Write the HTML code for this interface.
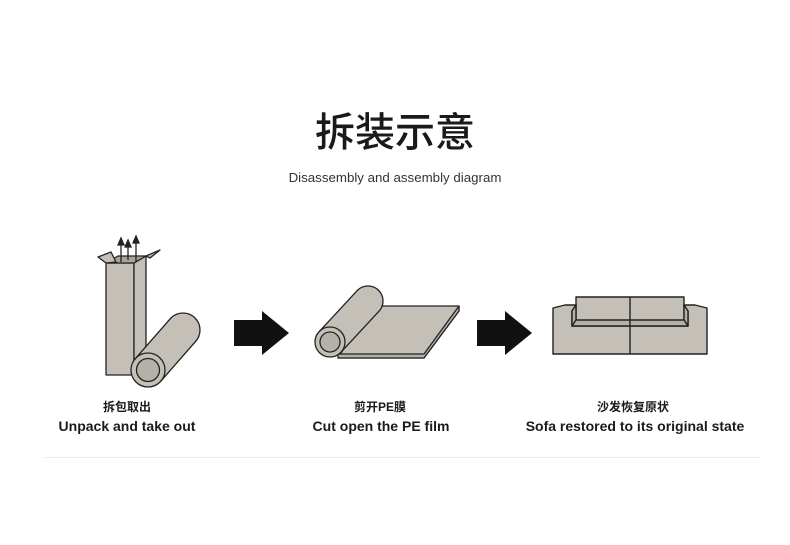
<!DOCTYPE html>
<html><head><meta charset="utf-8"><style>
body{margin:0;background:#fff}
svg{display:block}
</style></head><body>
<svg width="790" height="545" viewBox="0 0 790 545" xmlns="http://www.w3.org/2000/svg">
<rect width="790" height="545" fill="#fff"/>
<text x="395" y="146" text-anchor="middle" font-family="Liberation Sans, Noto Sans CJK SC, sans-serif" font-size="40" font-weight="500" fill="#1a1a1a">拆装示意</text>
<text x="395" y="182" text-anchor="middle" font-family="Liberation Sans, sans-serif" font-size="13.3" fill="#333">Disassembly and assembly diagram</text>
<g stroke="#222" stroke-width="1.3" fill="#c4c0b8" stroke-linejoin="round">
<rect x="106" y="263" width="28" height="112"/>
<polygon points="134,263 146,256 146,368 134,375"/>
<polygon points="106,263 134,263 146,256 118,256" fill="#a9a59d"/>
<polygon points="98,257 111,252 116,262 106,263" />
<polygon points="146,256 160,250 150,258"/>
</g>
<g stroke="#222" stroke-width="1.3" fill="#222">
<line x1="121" y1="262" x2="121" y2="243"/><polygon points="118,245 121,238 124,245"/>
<line x1="128" y1="260" x2="128" y2="245"/><polygon points="125,247 128,240 131,247"/>
<line x1="136" y1="262" x2="136" y2="240"/><polygon points="133,243 136,236 139,243"/>
</g>
<!-- roll 1 -->
<g stroke="#222" stroke-width="1.3" fill="#c4c0b8">
<circle cx="183" cy="330" r="17"/>
<polygon points="160.8,381.2 135.2,358.8 170.2,318.8 195.8,341.2" stroke="none"/>
<line x1="160.8" y1="381.2" x2="195.8" y2="341.2"/>
<line x1="135.2" y1="358.8" x2="170.2" y2="318.8"/>
<circle cx="148" cy="370" r="17"/>
<circle cx="148" cy="370" r="11.5" fill="#b5b1a9"/>
</g>
<!-- arrows -->
<polygon points="234,320 262,320 262,311 289,333 262,355 262,346 234,346" fill="#111"/>
<polygon points="477,320 505,320 505,311 532,333 505,355 505,346 477,346" fill="#111"/>
<!-- film -->
<g stroke="#222" stroke-width="1.3" fill="#c4c0b8" stroke-linejoin="round">
<polygon points="370,306 459,306 459,311 424,358 338,358"/>
<polygon points="338,354 424,354 459,306 459,311 424,358 338,358" fill="#b5b1a9"/>
<circle cx="368" cy="301" r="15"/>
<polygon points="341,352.2 319,331.8 357,290.8 379,311.2" stroke="none"/>
<line x1="341" y1="352.2" x2="379" y2="311.2"/>
<line x1="319" y1="331.8" x2="357" y2="290.8"/>
<circle cx="330" cy="342" r="15"/>
<circle cx="330" cy="342" r="10" fill="#b5b1a9"/>
</g>
<!-- sofa -->
<g stroke="#222" stroke-width="1.4" fill="#c4c0b8" stroke-linejoin="round">
<rect x="576" y="297" width="108" height="29"/>
<polygon points="553,308 565,305 576,305 572,311 572,326 688,326 688,311 684,305 695,305 707,308 707,354 553,354"/>
<polygon points="572,311 576,305 576,320 572,326" fill="#b5b1a9"/>
<polygon points="688,311 684,305 684,320 688,326" fill="#b5b1a9"/>
<polygon points="576,320 684,320 688,326 572,326" fill="#b5b1a9"/>
<line x1="630" y1="297" x2="630" y2="354"/>
</g>
<g font-family="Liberation Sans, Noto Sans CJK SC, sans-serif" font-weight="bold" fill="#1a1a1a" text-anchor="middle">
<text x="127" y="411" font-size="12">拆包取出</text>
<text x="380" y="411" font-size="12">剪开PE膜</text>
<text x="633" y="411" font-size="12">沙发恢复原状</text>
<text x="127" y="431" font-size="14">Unpack and take out</text>
<text x="381" y="431" font-size="14">Cut open the PE film</text>
<text x="635" y="431" font-size="14">Sofa restored to its original state</text>
</g>
<line x1="43" y1="457.5" x2="760" y2="457.5" stroke="#eee" stroke-width="1"/>
</svg>
</body></html>
